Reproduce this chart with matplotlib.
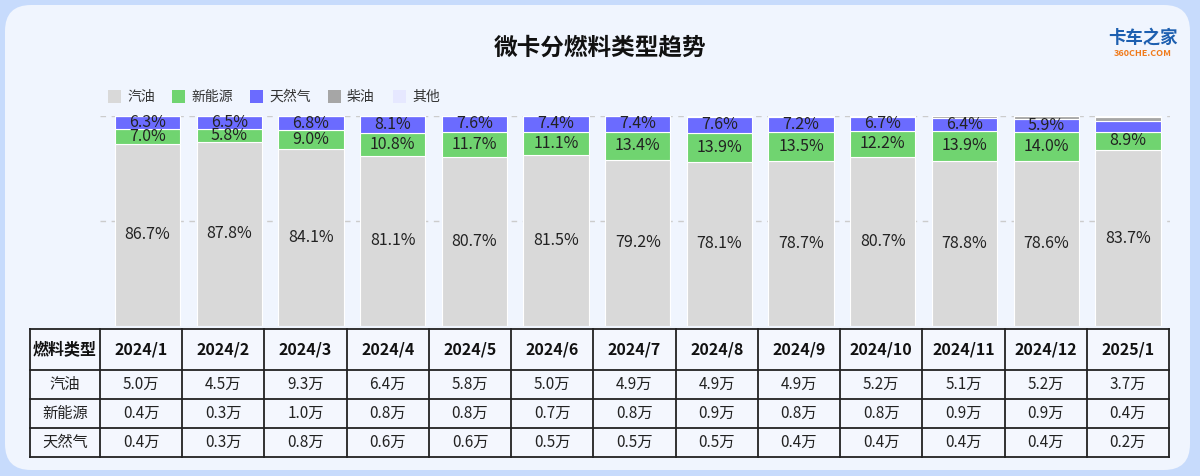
import numpy as np
import matplotlib.pyplot as plt
from matplotlib.patches import FancyBboxPatch, Rectangle

plt.rcParams['font.family'] = ['Noto Sans CJK SC', 'DejaVu Sans']

# share of each fuel type, percent
months = ["2024/1", "2024/2", "2024/3", "2024/4", "2024/5", "2024/6", "2024/7",
          "2024/8", "2024/9", "2024/10", "2024/11", "2024/12", "2025/1"]
gasoline = [86.7, 87.8, 84.1, 81.1, 80.7, 81.5, 79.2, 78.1, 78.7, 80.7, 78.8, 78.6, 83.7]
new_energy = [7.0, 5.8, 9.0, 10.8, 11.7, 11.1, 13.4, 13.9, 13.5, 12.2, 13.9, 14.0, 8.9]
natural_gas = [6.3, 6.5, 6.8, 8.1, 7.6, 7.4, 7.4, 7.6, 7.2, 6.7, 6.4, 5.9, 5.2]
diesel = [0.0, 0.0, 0.1, 0.0, 0.0, 0.0, 0.0, 0.4, 0.6, 0.4, 0.9, 1.5, 1.6]
other = [0.0, 0.0, 0.0, 0.0, 0.0, 0.0, 0.0, 0.0, 0.0, 0.0, 0.0, 0.0, 0.6]

# sales table, 万 units
row_names = ["汽油", "新能源", "天然气"]
sales_gasoline = ["5.0万", "4.5万", "9.3万", "6.4万", "5.8万", "5.0万", "4.9万",
                  "4.9万", "4.9万", "5.2万", "5.1万", "5.2万", "3.7万"]
sales_new_energy = ["0.4万", "0.3万", "1.0万", "0.8万", "0.8万", "0.7万", "0.8万",
                    "0.9万", "0.8万", "0.8万", "0.9万", "0.9万", "0.4万"]
sales_gas = ["0.4万", "0.3万", "0.8万", "0.6万", "0.6万", "0.5万", "0.5万",
             "0.5万", "0.4万", "0.4万", "0.4万", "0.4万", "0.2万"]

series = [("汽油", gasoline, "#d9d9d9"),
          ("新能源", new_energy, "#70d470"),
          ("天然气", natural_gas, "#6b6bff"),
          ("柴油", diesel, "#a6a6a6"),
          ("其他", other, "#e6e8ff")]

W, H = 1200, 476
fig = plt.figure(figsize=(W / 100, H / 100), dpi=100)
fig.patch.set_facecolor("#c7dbfc")

# background panel, pixel coordinates
bg = fig.add_axes([0, 0, 1, 1], zorder=0)
bg.set_xlim(0, W)
bg.set_ylim(H, 0)
bg.axis("off")
bg.add_patch(FancyBboxPatch((5, 5), 1185, 465, boxstyle="round,pad=0,rounding_size=26",
                            facecolor="#f0f5fe", edgecolor="none"))
bg.text(600, 47, "微卡分燃料类型趋势", ha="center", va="center", fontsize=17,
        fontweight="bold", color="#111111")
bg.text(1143, 38, "卡车之家", ha="center", va="center", fontsize=12.5, fontweight="bold",
        color="#1d5fb0", style="italic")
bg.text(1143, 53, "360CHE.COM", ha="center", va="center", fontsize=6.5, fontweight="bold",
        color="#f07a1a")

# legend
leg_x = [108, 172, 250, 328, 393]
for (name, _, color), lx in zip(series, leg_x):
    bg.add_patch(Rectangle((lx, 90), 13, 13, facecolor=color, edgecolor="none"))
    bg.text(lx + 19, 96.5, name, ha="left", va="center", fontsize=10, color="#333333")

# bars
x0, pitch = 147.5, 81.7
left_px, right_px, top_px, bot_px = 100, 1170, 116, 326
ax = fig.add_axes([left_px / W, 1 - bot_px / H, (right_px - left_px) / W,
                   (bot_px - top_px) / H], zorder=1)
ax.set_facecolor("none")
x = np.arange(len(months))
ax.set_xlim((left_px - x0) / pitch, (right_px - x0) / pitch)
ax.set_ylim(0, 100)
for gy in (50, 100):
    ax.axhline(gy, color="#cccccc", lw=1, ls=(0, (4, 4)), zorder=0)
ax.axis("off")

bottom = np.zeros(len(months))
for idx, (name, vals, color) in enumerate(series):
    vals = np.array(vals)
    ax.bar(x, vals, 0.8, bottom=bottom, color=color, edgecolor="white", linewidth=0.8,
           zorder=2)
    if idx < 3:
        for xi, b, v in zip(x, bottom, vals):
            if idx == 2 and v < 5.5:
                continue
            ax.text(xi, b + v / 2, f"{v:.1f}%", ha="center", va="center", fontsize=11.5,
                    color="#222222", zorder=3, clip_on=False)
    bottom += vals

# table
tb = fig.add_axes([0, 0, 1, 1], zorder=2)
tb.set_xlim(0, W)
tb.set_ylim(H, 0)
tb.axis("off")
col_edges = [30] + [100 + 82.23 * k for k in range(14)]
row_edges = [329, 370, 399, 428, 457]
tb.add_patch(Rectangle((col_edges[0], row_edges[0]), col_edges[-1] - col_edges[0],
                       row_edges[-1] - row_edges[0], facecolor="#f4f7fe",
                       edgecolor="none"))
for cx in col_edges:
    tb.plot([cx, cx], [row_edges[0], row_edges[-1]], color="#222222", lw=1.3)
for ry in row_edges:
    tb.plot([col_edges[0], col_edges[-1]], [ry, ry], color="#222222", lw=1.3)

cx_mid = [(a + b) / 2 for a, b in zip(col_edges[:-1], col_edges[1:])]
ry_mid = [(a + b) / 2 for a, b in zip(row_edges[:-1], row_edges[1:])]
tb.text(cx_mid[0], ry_mid[0], "燃料类型", ha="center", va="center", fontsize=11.5,
        fontweight="bold", color="#111111")
for cxm, m in zip(cx_mid[1:], months):
    tb.text(cxm, ry_mid[0], m, ha="center", va="center", fontsize=11.5,
            fontweight="bold", color="#111111")
for ri, (rname, vals) in enumerate(zip(row_names, [sales_gasoline, sales_new_energy,
                                                   sales_gas])):
    tb.text(cx_mid[0], ry_mid[ri + 1], rname, ha="center", va="center", fontsize=11,
            color="#222222")
    for cxm, v in zip(cx_mid[1:], vals):
        tb.text(cxm, ry_mid[ri + 1], v, ha="center", va="center", fontsize=11,
                color="#222222")

fig.savefig("out.png", dpi=100, facecolor=fig.get_facecolor())
